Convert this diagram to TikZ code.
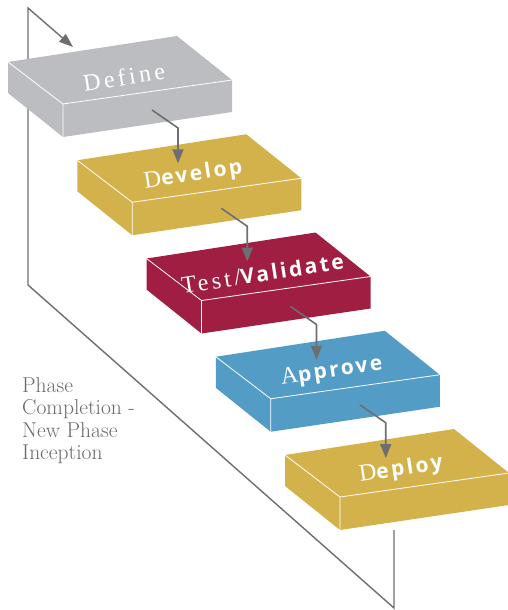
\documentclass[tikz,border=0pt]{standalone}
\usepackage{fontspec}
\usetikzlibrary{arrows.meta,calc}
\newfontfamily\lblserif[LetterSpace=14]{Liberation Serif}
\newfontfamily\lblsans[LetterSpace=12]{Open Sans}
\definecolor{boxgray}{HTML}{BCBDC1}
\definecolor{boxgold}{HTML}{D4B24B}
\definecolor{boxred}{HTML}{A01E41}
\definecolor{boxblue}{HTML}{539CC5}
\definecolor{linegray}{HTML}{6D6E71}
\definecolor{textgray}{HTML}{6A6A6A}
\newcommand\ini[1]{{\lblserif\fontsize{24}{24}\selectfont #1}}
\newcommand\rst[1]{{\lblsans\bfseries\fontsize{21}{21}\selectfont #1}}
\tikzset{
  edge/.style={draw=white, line width=0.8pt},
  boxlabel/.style={text=white, rotate=8.75, inner sep=0pt},
  conn/.style={draw=linegray, line width=1.6pt, -{Triangle[length=14pt,width=11pt]}},
  loopline/.style={draw=linegray, line width=1.4pt, -{Triangle[length=14pt,width=10pt]}},
  phaselabel/.style={text=textgray, align=left, inner sep=0pt, font=\fontsize{21.5}{22.5}\selectfont}
}
\newcommand\phasebox[4]{%
  \path (#2) coordinate (#1L) +(169,-26) coordinate (#1B) +(224,18) coordinate (#1R)
        +(55,42) coordinate (#1F) +(116,15) coordinate (#1C) +(144,48) coordinate (#1S)
        +(170,66) coordinate (#1K) +(0,3) coordinate (#1T);
  \fill[#3] (#1L) -- (#1B) -- (#1R) -- ($(#1R)+(0,32)$) -- ($(#1F)+(0,33)$) -- ($(#1L)+(0,31)$) -- cycle;
  \draw[edge] (#1L) -- (#1F) -- (#1R) (#1F) -- ($(#1F)+(0,33)$);
  \node[boxlabel] (#1) at (#1C) {#4};
}
\begin{document}
\begin{tikzpicture}[x=1pt,y=-1pt]
\useasboundingbox (0,0) rectangle (507,610);
% feedback loop
\coordinate (p1) at (394,530);
\coordinate (p2) at (394,608);
\coordinate (p3) at (28,285);
\coordinate (p4) at (28,8);
\coordinate (p5) at (73,47);
\draw[loopline] (p1) -- (p2) -- (p3) -- (p4) -- (p5);
% boxes
\phasebox{a}{8,62}{boxgray}{\ini{Define}}
\phasebox{b}{77.25,160.25}{boxgold}{\ini{D}\rst{evelop}}
\phasebox{c}{146.5,258.5}{boxred}{\ini{Test/}\rst{Validate}}
\phasebox{d}{215.75,356.75}{boxblue}{\ini{A}\rst{pprove}}
\phasebox{e}{285,455}{boxgold}{\ini{D}\rst{eploy}}
% connectors
\draw[conn] (aS) -- (aK) -- (aK |- bT);
\draw[conn] (bS) -- (bK) -- (bK |- cT);
\draw[conn] (cS) -- (cK) -- (cK |- dT);
\draw[conn] (dS) -- (dK) -- (dK |- eT);
% label
\node[phaselabel, anchor=north west] (note) at (22,377) {Phase\\Completion -\\New Phase\\Inception};
\end{tikzpicture}
\end{document}
